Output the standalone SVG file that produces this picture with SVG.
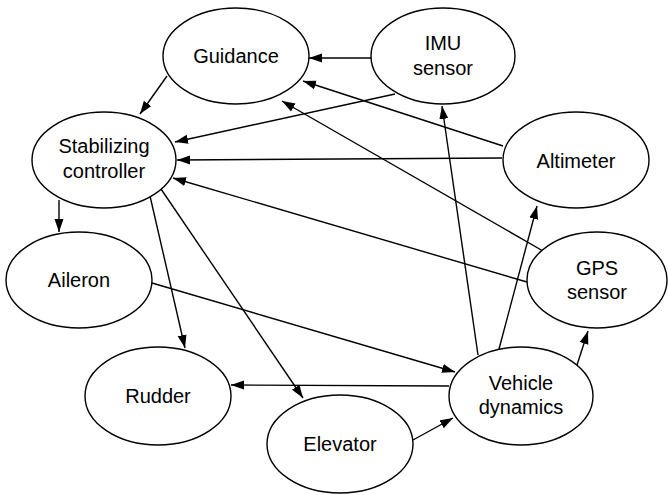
<svg xmlns="http://www.w3.org/2000/svg" width="668" height="495" viewBox="0 0 668 495">
<style>
.n ellipse{fill:#fff;stroke:#000;stroke-width:1.4}
.n text{font-family:"Liberation Sans",Arial,sans-serif;font-size:20px;text-anchor:middle;fill:#000}
.e path{fill:none;stroke:#000;stroke-width:1.4;marker-end:url(#ah)}
</style>
<defs>
<marker id="ah" markerUnits="userSpaceOnUse" markerWidth="14" markerHeight="10" refX="13" refY="5" orient="auto">
<path d="M0,0.5 L13,5 L0,9.5 Z" fill="#000"/>
</marker>
</defs>
<g class="e" id="connectors">
<path d="M371,58 L309,58"/>
<path d="M167,76 L140,114"/>
<path d="M395,94 L175,142"/>
<path d="M503,146 L303,81"/>
<path d="M502,158 L177,160"/>
<path d="M543,251 L282,101"/>
<path d="M527,282 L173,178"/>
<path d="M59,200 L59,232"/>
<path d="M150,196 L185,348"/>
<path d="M161,189 L303,398"/>
<path d="M152,283 L455,372"/>
<path d="M449,386 L231,385"/>
<path d="M413,440 L453,418"/>
<path d="M478,355 L442,106"/>
<path d="M499,349 L537,206"/>
<path d="M577,365 L588,331"/>
</g>
<g class="n" id="guidance"><ellipse cx="236" cy="56" rx="73" ry="48"/><text x="236" y="63">Guidance</text></g>
<g class="n" id="imu"><ellipse cx="443" cy="56" rx="72" ry="48"/><text x="443" y="50">IMU</text><text x="443" y="75">sensor</text></g>
<g class="n" id="stab"><ellipse cx="104" cy="160" rx="72" ry="48"/><text x="104" y="153">Stabilizing</text><text x="104" y="178">controller</text></g>
<g class="n" id="altimeter"><ellipse cx="576" cy="160" rx="73" ry="48"/><text x="576" y="168">Altimeter</text></g>
<g class="n" id="aileron"><ellipse cx="79" cy="280" rx="73" ry="48"/><text x="79" y="287">Aileron</text></g>
<g class="n" id="gps"><ellipse cx="597" cy="280" rx="70" ry="48"/><text x="597" y="275">GPS</text><text x="597" y="299">sensor</text></g>
<g class="n" id="rudder"><ellipse cx="158" cy="396" rx="73" ry="49"/><text x="158" y="403">Rudder</text></g>
<g class="n" id="vehicle"><ellipse cx="521" cy="396" rx="72" ry="49"/><text x="521" y="390">Vehicle</text><text x="521" y="414">dynamics</text></g>
<g class="n" id="elevator"><ellipse cx="340" cy="444" rx="73" ry="49"/><text x="340" y="451">Elevator</text></g>
</svg>
